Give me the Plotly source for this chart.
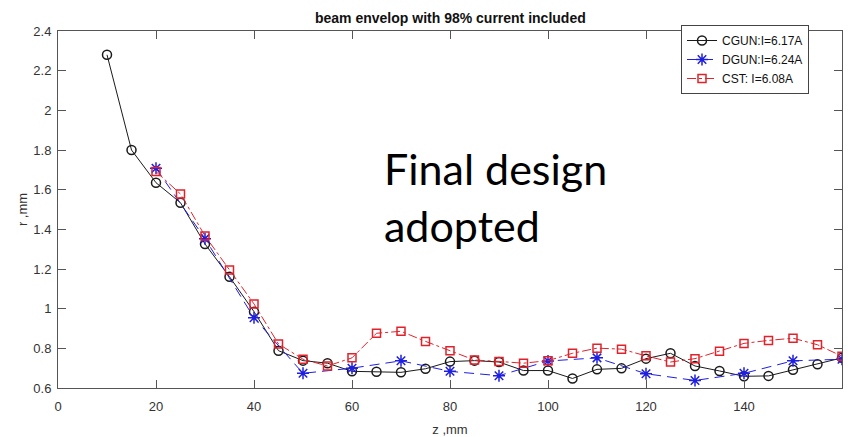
import plotly.graph_objects as go

# ---- data ----
z_cgun = [10, 15, 20, 25, 30, 35, 40, 45, 50, 55, 60, 65, 70, 75, 80, 85, 90, 95,
          100, 105, 110, 115, 120, 125, 130, 135, 140, 145, 150, 155, 160]
r_cgun = [2.28, 1.80, 1.635, 1.534, 1.326, 1.161, 0.985, 0.788, 0.738, 0.725, 0.684,
          0.682, 0.679, 0.697, 0.733, 0.738, 0.731, 0.688, 0.688, 0.648, 0.694, 0.699,
          0.748, 0.775, 0.711, 0.686, 0.659, 0.661, 0.692, 0.720, 0.752]

z_dgun = [20, 30, 40, 50, 60, 70, 80, 90, 100, 110, 120, 130, 140, 150, 160]
r_dgun = [1.708, 1.353, 0.954, 0.674, 0.700, 0.737, 0.684, 0.662, 0.736, 0.752,
          0.672, 0.638, 0.674, 0.737, 0.745]

z_cst = [20, 25, 30, 35, 40, 45, 50, 55, 60, 65, 70, 75, 80, 85, 90, 95, 100, 105,
         110, 115, 120, 125, 130, 135, 140, 145, 150, 155, 160]
r_cst = [1.691, 1.578, 1.367, 1.195, 1.024, 0.822, 0.745, 0.711, 0.752, 0.876, 0.886,
         0.835, 0.788, 0.741, 0.734, 0.725, 0.738, 0.775, 0.801, 0.796, 0.762, 0.731,
         0.748, 0.785, 0.825, 0.840, 0.851, 0.818, 0.760]

names = ["CGUN:I=6.17A", "DGUN:I=6.24A", "CST: I=6.08A"]
x_ticks = [0, 20, 40, 60, 80, 100, 120, 140, 160]
y_ticks = [0.6, 0.8, 1.0, 1.2, 1.4, 1.6, 1.8, 2.0, 2.2, 2.4]

title_text = "beam envelop with 98% current included"
note_lines = ["Final design", "adopted"]

# ---- figure ----
W, H = 850, 437
ML, MR, MT, MB = 58, 8, 31, 49
ph = H - MT - MB
pw = W - ML - MR
FONT = "Liberation Sans, Arial, sans-serif"

fig = go.Figure()
fig.add_trace(go.Scatter(
    x=z_cgun, y=r_cgun, name=names[0], mode="lines+markers",
    line=dict(color="#1a1a1a", width=1),
    marker=dict(symbol="circle-open", size=9, color="#1a1a1a", line=dict(width=1.5)),
))
fig.add_trace(go.Scatter(
    x=z_dgun, y=r_dgun, name=names[1], mode="lines+markers",
    line=dict(color="#1f1fe0", width=1, dash="10px,6px"),
    marker=dict(symbol="asterisk-open", size=10, color="#1f1fe0", line=dict(width=1.5, color="#1f1fe0")),
))
fig.add_trace(go.Scatter(
    x=z_cst, y=r_cst, name=names[2], mode="lines+markers",
    line=dict(color="#e0232b", width=1, dash="dashdot"),
    marker=dict(symbol="square-open", size=8, color="#e0232b", line=dict(width=1.5)),
))

axis_common = dict(
    showline=True, linecolor="#555555", linewidth=1, mirror="ticks",
    ticks="inside", ticklen=8, tickcolor="#555555", tickwidth=1,
    showgrid=False, zeroline=False, automargin=False,
    tickfont=dict(family=FONT, size=13, color="#333333"),
)

fig.update_xaxes(range=[0, 160], tickvals=x_ticks, ticklabelstandoff=6,
                 title=dict(text="z ,mm", standoff=12,
                            font=dict(family=FONT, size=13, color="#333333")),
                 **axis_common)
fig.update_yaxes(range=[0.6, 2.4], tickvals=y_ticks, ticklabelstandoff=3,
                 title=dict(text="r ,mm", standoff=2,
                            font=dict(family=FONT, size=13, color="#333333")),
                 **axis_common)

fig.add_annotation(
    text=f"<b>{title_text}</b>", xref="paper", yref="paper",
    x=0.5, y=(H - MB - 18) / ph, xanchor="center", yanchor="middle", showarrow=False,
    font=dict(family=FONT, size=14, color="#111111"),
)

for line_text, ypx in zip(note_lines, [168, 225]):
    fig.add_annotation(
        text=line_text, xref="paper", yref="paper",
        x=(382 - ML) / pw, y=(H - MB - ypx) / ph,
        xanchor="left", yanchor="middle", showarrow=False,
        font=dict(family="Lato, sans-serif", size=43, color="#000000"),
    )

fig.update_layout(
    width=W, height=H,
    margin=dict(l=ML, r=MR, t=MT, b=MB, autoexpand=False),
    paper_bgcolor="white", plot_bgcolor="white",
    showlegend=True,
    legend=dict(
        x=(681 - ML) / pw, y=(H - MB - 25) / ph,
        xanchor="left", yanchor="top",
        bgcolor="white", bordercolor="#444444", borderwidth=1,
        font=dict(family=FONT, size=12, color="#111111"),
        tracegroupgap=0, itemwidth=30,
    ),
)

fig.write_html("out.html")
